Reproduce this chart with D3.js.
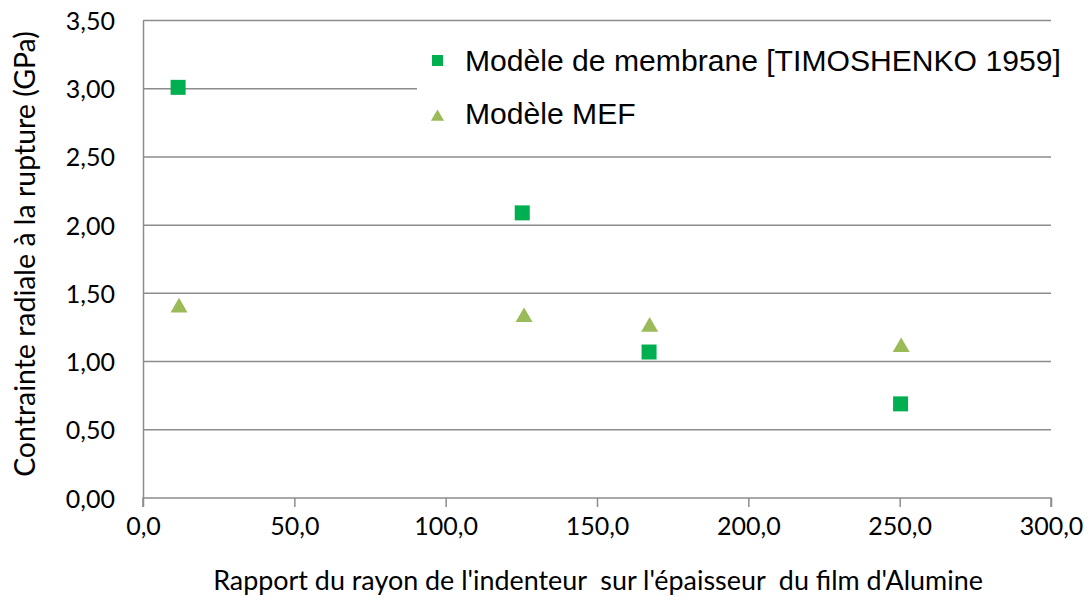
<!DOCTYPE html>
<html><head><meta charset="utf-8">
<script src="https://cdn.jsdelivr.net/npm/d3@7"></script>
<style>body{margin:0;background:#fff}svg{display:block}</style>
</head><body>
<svg id="c" width="1092" height="600"></svg>
<script>
const membraneX = [11.6, 125.3, 167.2, 250.3];
const membraneY = [3.01, 2.09, 1.07, 0.69];
const mefX = [11.9, 125.9, 167.4, 250.5];
const mefY = [1.41, 1.34, 1.27, 1.12];
const xTicks = [0, 50, 100, 150, 200, 250, 300];
const yTicks = [0, 0.5, 1, 1.5, 2, 2.5, 3, 3.5];
const seriesNames = ["Modèle de membrane [TIMOSHENKO 1959]", "Modèle MEF"];
const xTitle = "Rapport du rayon de l'indenteur  sur l'épaisseur  du film d'Alumine";
const yTitle = "Contrainte radiale à la rupture (GPa)";

const svg = d3.select("#c");
const L = 143, R = 1051, T = 20.5, B = 498;
const x = d3.scaleLinear().domain([0, 300]).range([L, R]);
const y = d3.scaleLinear().domain([0, 3.5]).range([B, T]);
const fmt = (d, n) => d.toFixed(n).replace(".", ",");
const font = "Lato, 'Open Sans', sans-serif";
const gridC = "#8c8c8c";

// fit a text's width by adjusting font-size
function fit(sel, w) {
  const n = sel.node();
  const cur = n.getComputedTextLength();
  const fs = parseFloat(sel.attr("font-size"));
  sel.attr("font-size", fs * w / cur);
}

svg.append("g").selectAll("line").data(yTicks.filter(d => d > 0)).join("line")
  .attr("x1", L).attr("x2", R).attr("y1", d => y(d)).attr("y2", d => y(d))
  .attr("stroke", gridC).attr("stroke-width", 1.5);

const xAxis = svg.append("g").attr("transform", `translate(0,${B})`)
  .call(d3.axisBottom(x).tickValues(xTicks).tickSize(9).tickPadding(10).tickFormat(d => fmt(d, 1)));
const yAxis = svg.append("g").attr("transform", `translate(${L},0)`)
  .call(d3.axisLeft(y).tickValues(yTicks).tickSize(0).tickPadding(28).tickFormat(d => fmt(d, 2)));
[xAxis, yAxis].forEach(a => {
  a.selectAll("path,line").attr("stroke", gridC).attr("stroke-width", 1.5);
  a.selectAll("text").attr("font-family", font).attr("font-size", 25).attr("fill", "#000");
});
xAxis.select(".domain").attr("d", `M${L},9V0H${R}V9`);
yAxis.selectAll("text").attr("dy", "0.36em");

svg.append("rect").attr("x", 417).attr("y", 27).attr("width", 660).attr("height", 110).attr("fill", "#fff");

const sym = (t, s) => d3.symbol().type(t).size(s)();
svg.append("g").selectAll("path").data(mefX.map((d, i) => [d, mefY[i]])).join("path")
  .attr("d", sym(d3.symbolTriangle, 125))
  .attr("transform", d => `translate(${x(d[0])},${y(d[1]) + 2})`)
  .attr("fill", "#9bbb59");
svg.append("g").selectAll("rect").data(membraneX.map((d, i) => [d, membraneY[i]])).join("rect")
  .attr("x", d => x(d[0]) - 7.5).attr("y", d => y(d[1]) - 7.5)
  .attr("width", 15).attr("height", 15).attr("fill", "#00b050");

const lg = svg.append("g");
lg.append("rect").attr("x", 432).attr("y", 55).attr("width", 11).attr("height", 11).attr("fill", "#00b050");
lg.append("path").attr("d", sym(d3.symbolTriangle, 75)).attr("transform", "translate(437.5,117)").attr("fill", "#9bbb59");
const lt = lg.selectAll("text").data(seriesNames).join("text")
  .attr("x", 465).attr("y", (d, i) => 60 + i * 53).attr("dy", "0.35em")
  .attr("font-family", "'Liberation Sans', Arial, sans-serif")
  .attr("font-size", 27).attr("fill", "#000").text(d => d);
fit(d3.select(lt.nodes()[0]), 596);
d3.select(lt.nodes()[1]).attr("font-size", d3.select(lt.nodes()[0]).attr("font-size"));

const xt = svg.append("text").attr("x", 598).attr("y", 590).attr("text-anchor", "middle")
  .attr("font-family", font).attr("font-size", 23).attr("fill", "#000")
  .style("white-space", "pre").text(xTitle);
fit(xt, 770);
const yt = svg.append("text").attr("transform", "translate(35,254) rotate(-90)").attr("text-anchor", "middle")
  .attr("font-family", font).attr("font-size", 22).attr("fill", "#000").text(yTitle);
fit(yt, 446);
</script>
</body></html>
